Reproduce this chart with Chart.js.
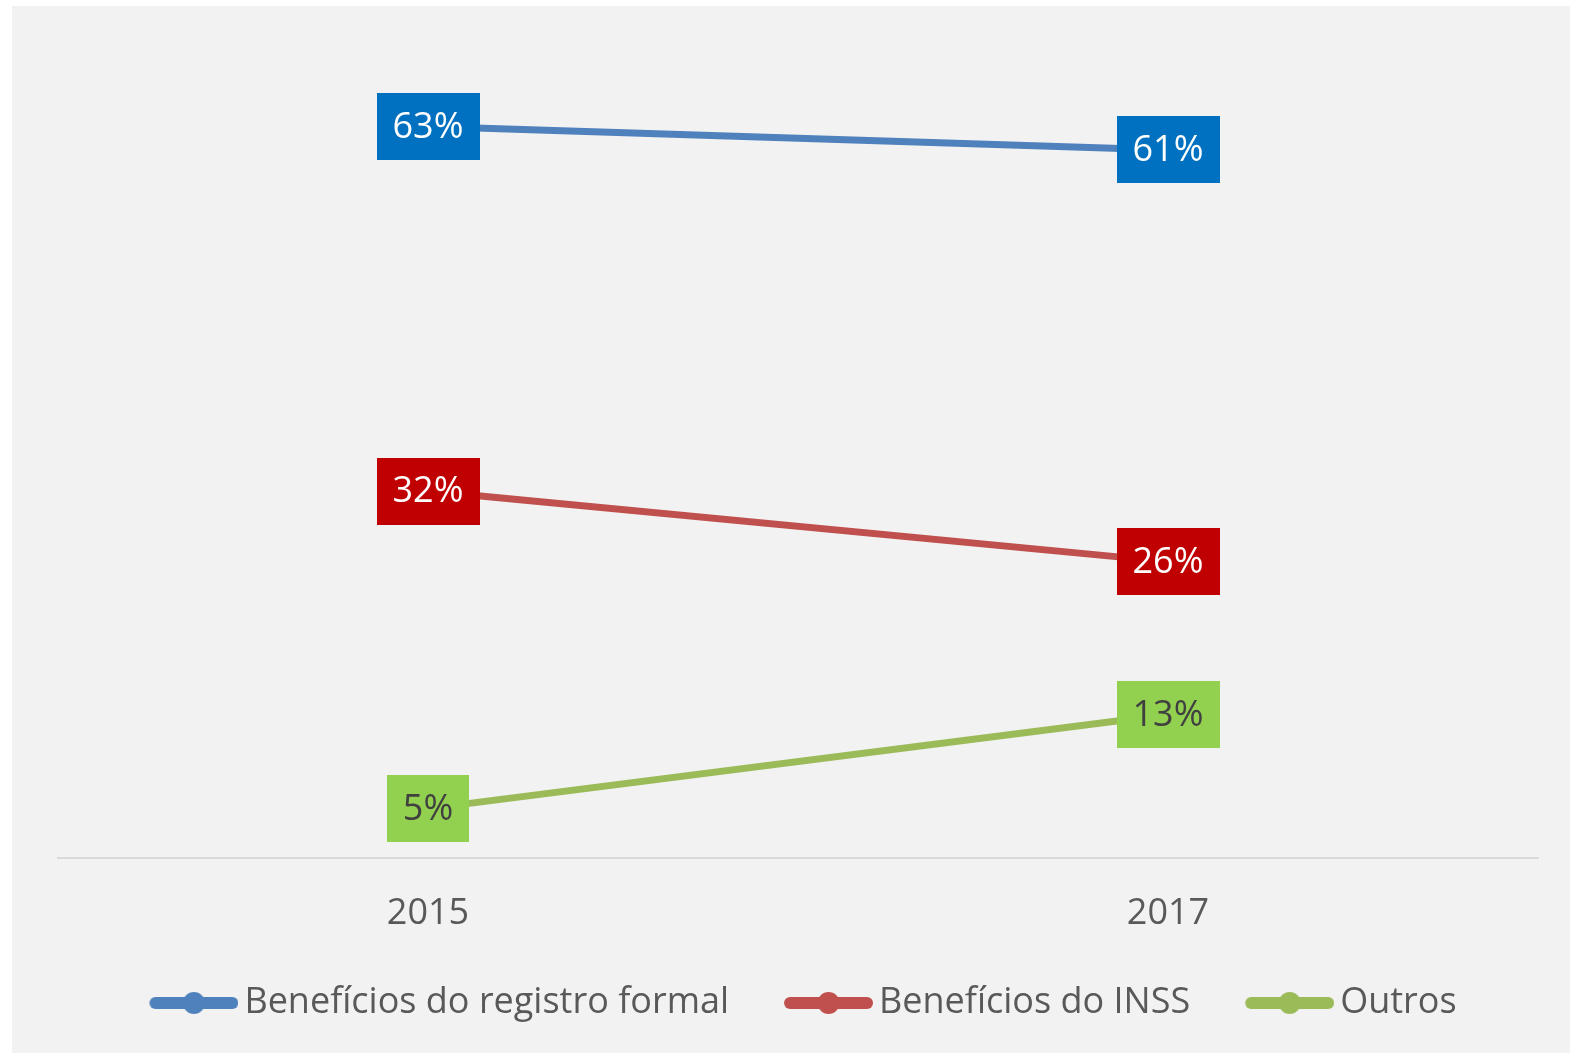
<!DOCTYPE html>
<html><head><meta charset="utf-8">
<script src="https://cdn.jsdelivr.net/npm/chart.js@4/dist/chart.umd.min.js"></script>
<style>
html,body{margin:0;padding:0;background:#fff;}
#wrap{position:absolute;left:12px;top:6px;width:1558px;height:1047px;background:#f2f2f2;}
canvas{display:block;}
</style></head><body>
<div id="wrap"><canvas id="c" width="1558" height="1047" style="width:1558px;height:1047px"></canvas></div>
<script>
const categories = ['2015', '2017'];
const seriesNames = ['Benefícios do registro formal', 'Benefícios do INSS', 'Outros'];
const registroFormal = [63, 61];
const inss = [32, 26];
const outros = [5, 13];

const FONT = 'Open Sans';

function makeMarker(color) {
  const c = document.createElement('canvas');
  c.width = 111; c.height = 30;
  const g = c.getContext('2d');
  g.strokeStyle = color; g.lineWidth = 12; g.lineCap = 'round';
  g.beginPath(); g.moveTo(28, 15); g.lineTo(105, 15); g.stroke();
  g.fillStyle = color;
  g.beginPath(); g.arc(66.5, 15, 11, 0, Math.PI * 2); g.fill();
  return c;
}

const labelPlugin = {
  id: 'boxLabels',
  afterDatasetsDraw(chart) {
    const ctx = chart.ctx;
    chart.data.datasets.forEach((ds, di) => {
      const meta = chart.getDatasetMeta(di);
      meta.data.forEach((pt, i) => {
        const txt = ds.data[i] + '%';
        ctx.save();
        ctx.font = '36px "' + FONT + '"';
        const w = ctx.measureText(txt).width + 32;
        const h = 67;
        ctx.fillStyle = ds.labelBg;
        ctx.fillRect(Math.round(pt.x - w / 2), Math.round(pt.y - h / 2), Math.round(w), h);
        ctx.fillStyle = ds.labelColor;
        ctx.textAlign = 'center';
        ctx.textBaseline = 'middle';
        ctx.fillText(txt, pt.x, pt.y + 1);
        ctx.restore();
      });
    });
  }
};

function build() {
  const lineColors = ['#4f81bd', '#c0504d', '#9bbb59'];
  const markers = lineColors.map(makeMarker);
  new Chart(document.getElementById('c'), {
    type: 'line',
    data: {
      labels: categories,
      datasets: [
        { label: seriesNames[0], data: registroFormal, borderColor: lineColors[0], labelBg: '#0070c0', labelColor: '#ffffff' },
        { label: seriesNames[1], data: inss, borderColor: lineColors[1], labelBg: '#c00000', labelColor: '#ffffff' },
        { label: seriesNames[2], data: outros, borderColor: lineColors[2], labelBg: '#92d050', labelColor: '#404040' }
      ].map(d => Object.assign(d, { borderWidth: 7, pointRadius: 0, tension: 0, fill: false, borderCapStyle: 'round' }))
    },
    options: {
      responsive: false,
      animation: false,
      devicePixelRatio: 1,
      layout: { padding: { left: 46, right: 32, top: 44, bottom: 22 } },
      scales: {
        x: {
          offset: true,
          grid: { display: false, drawTicks: false },
          border: { display: true, color: '#d9d9d9', width: 2 },
          ticks: { color: '#595959', font: { family: FONT, size: 36 }, padding: 34 },
          afterFit(scale) { scale.height = 82; }
        },
        y: { display: false, min: 0.8, max: 69.5 }
      },
      plugins: {
        tooltip: { enabled: false },
        legend: {
          position: 'bottom',
          labels: {
            usePointStyle: true,
            pointStyleWidth: 87,
            padding: 45,
            color: '#595959',
            font: { family: FONT, size: 36 },
            generateLabels(chart) {
              return chart.data.datasets.map((ds, i) => ({
                text: ds.label,
                fillStyle: ds.borderColor,
                strokeStyle: ds.borderColor,
                lineWidth: 0,
                pointStyle: markers[i],
                datasetIndex: i,
                hidden: false,
                fontColor: '#595959'
              }));
            }
          }
        }
      }
    },
    plugins: [labelPlugin]
  });
}

if (document.fonts && document.fonts.load) {
  document.fonts.load('36px "' + FONT + '"').then(build, build);
} else { build(); }
</script>
</body></html>
